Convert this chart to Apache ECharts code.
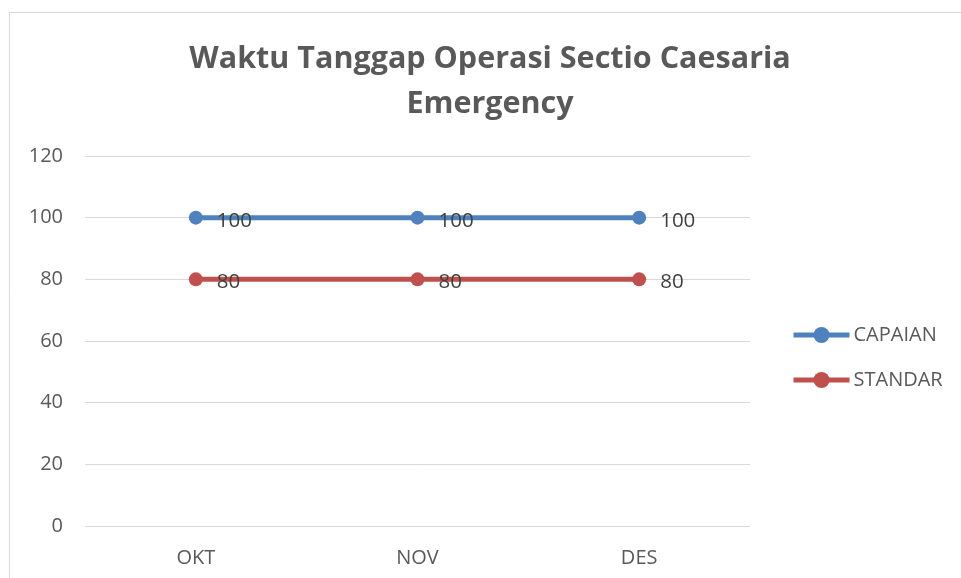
<!DOCTYPE html>
<html>
<head>
<meta charset="utf-8">
<script src="https://cdn.jsdelivr.net/npm/echarts@6/dist/echarts.min.js"></script>
<style>
 html, body { margin: 0; padding: 0; background: #fff; }
 #container { width: 961px; height: 578px; }
</style>
</head>
<body>
<div id="container"></div>
<script>
var months = ['OKT', 'NOV', 'DES'];
var capaian = [100, 100, 100];
var standar = [80, 80, 80];
var yTicks = [0, 20, 40, 60, 80, 100, 120];

var dom = document.getElementById("container");
var myChart = echarts.init(dom);
var font = '"Open Sans", "Noto Sans", sans-serif';

function lineSeries(name, data, color) {
    return {
        name: name,
        type: 'line',
        data: data,
        symbol: 'circle',
        symbolSize: 14,
        lineStyle: { color: color, width: 5 },
        itemStyle: { color: color },
        label: {
            show: true,
            position: 'right',
            distance: 14,
            color: '#404040',
            fontSize: 20.5,
            fontFamily: font,
            offset: [0, 3]
        }
    };
}

var option = {
    backgroundColor: '#fff',
    animation: false,
    graphic: [{
        type: 'rect',
        shape: { x: 9.5, y: 12.5, width: 980, height: 600 },
        style: { fill: 'none', stroke: '#d9d9d9', lineWidth: 1 },
        silent: true
    }],
    title: {
        text: 'Waktu Tanggap Operasi Sectio Caesaria\nEmergency',
        left: 485,
        textAlign: 'center',
        top: 32,
        textStyle: {
            color: '#595959',
            fontSize: 30.5,
            fontWeight: 'bold',
            fontFamily: font,
            lineHeight: 45
        }
    },
    legend: {
        orient: 'vertical',
        left: 786,
        top: 320,
        itemWidth: 56,
        itemHeight: 20,
        itemGap: 25,
        data: ['CAPAIAN', 'STANDAR'],
        lineStyle: { width: 5 },
        textStyle: { color: '#595959', fontSize: 20, fontFamily: font, padding: [0, 0, 0, -1] }
    },
    grid: { left: 85, right: 211, top: 156, bottom: 52, containLabel: false },
    xAxis: {
        type: 'category',
        data: months,
        boundaryGap: true,
        axisLine: { show: false },
        axisTick: { show: false },
        axisLabel: { color: '#595959', fontSize: 20, fontFamily: font, margin: 22 }
    },
    yAxis: {
        type: 'value',
        min: yTicks[0],
        max: yTicks[yTicks.length - 1],
        interval: 20,
        axisLine: { show: false },
        axisTick: { show: false },
        splitLine: { lineStyle: { color: '#d9d9d9', width: 1 } },
        axisLabel: { color: '#595959', fontSize: 20, fontFamily: font, margin: 22 }
    },
    series: [
        lineSeries('CAPAIAN', capaian, '#4f81bd'),
        lineSeries('STANDAR', standar, '#c0504d')
    ]
};

myChart.setOption(option);
</script>
</body>
</html>
